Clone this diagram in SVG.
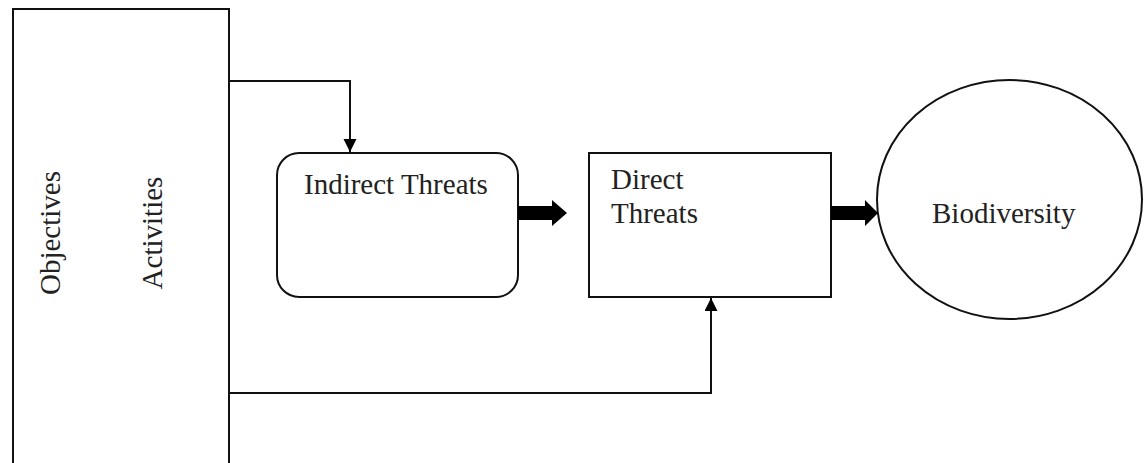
<svg xmlns="http://www.w3.org/2000/svg" width="1147" height="463" viewBox="0 0 1147 463">
<defs>
<style>
.shape{fill:#fff;stroke:#111;stroke-width:2}
.line{fill:none;stroke:#111;stroke-width:2}
.lbl{font-family:"Liberation Serif","Times New Roman",serif;font-size:29px;fill:#222}
.fat{fill:#000}
</style>
<marker id="ah" markerWidth="14" markerHeight="14" refX="13" refY="6.5" orient="auto" markerUnits="userSpaceOnUse">
<path d="M0,0 L13,6.5 L0,13 Z" fill="#000"/>
</marker>
</defs>
<rect width="1147" height="463" fill="#fff"/>
<g id="objectives-activities">
<rect class="shape" x="13" y="9" width="216" height="470"/>
<text class="lbl" text-anchor="middle" transform="translate(60,233) rotate(-90)">Objectives</text>
<text class="lbl" text-anchor="middle" transform="translate(162,233) rotate(-90)">Activities</text>
</g>
<g id="indirect-threats">
<rect class="shape" x="277" y="153" width="241" height="144" rx="22" ry="22"/>
<text class="lbl" x="304" y="194">Indirect Threats</text>
</g>
<g id="direct-threats">
<rect class="shape" x="589" y="153" width="242" height="144"/>
<text class="lbl" x="611" y="189">Direct</text>
<text class="lbl" x="611" y="223">Threats</text>
</g>
<g id="biodiversity">
<ellipse class="shape" cx="1009.5" cy="199.5" rx="132.5" ry="119.5"/>
<text class="lbl" x="932" y="223">Biodiversity</text>
</g>
<g id="connectors">
<polyline class="line" points="229,81 350,81 350,152" marker-end="url(#ah)"/>
<polyline class="line" points="229,393 711,393 711,298" marker-end="url(#ah)"/>
<polygon class="fat" points="518,206 552,206 552,200 567,213 552,226 552,220 518,220"/>
<polygon class="fat" points="831,206 865,206 865,200 878,213 865,226 865,220 831,220"/>
</g>
</svg>
